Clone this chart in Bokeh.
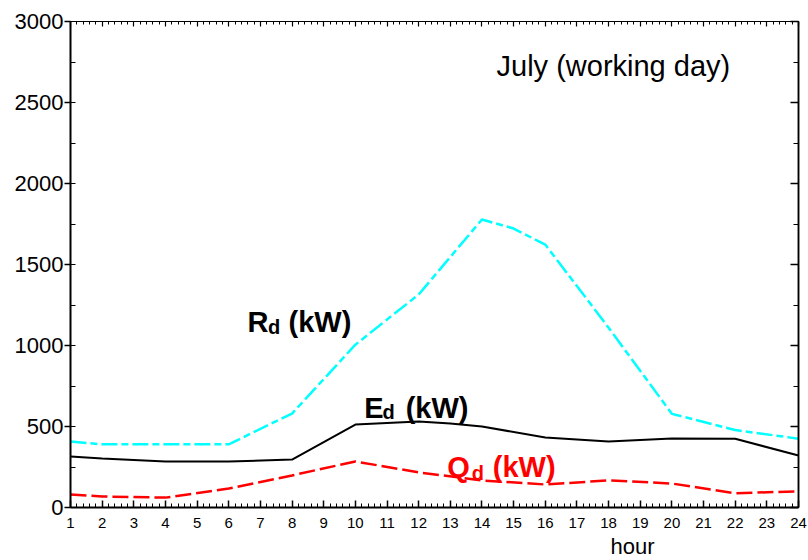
import numpy as np
from bokeh.plotting import figure
from bokeh.models import Label, LinearAxis, SingleIntervalTicker, FixedTicker, Range1d, Title
from bokeh.embed import file_html
from bokeh.resources import INLINE

# ---- data ----
r_hours = [1, 2, 4, 6, 8, 10, 12, 14, 15, 16, 18, 20, 22, 24]
r_vals = [407, 390, 390, 390, 580, 1005, 1315, 1778, 1722, 1623, 1110, 578, 478, 425]

e_hours = [1, 2, 4, 6, 8, 10, 12, 13, 14, 16, 18, 20, 22, 24]
e_vals = [315, 302, 284, 284, 296, 512, 531, 518, 500, 432, 408, 426, 424, 321]

q_hours = [1, 2, 4, 6, 8, 10, 12, 14, 16, 18, 20, 22, 24]
q_vals = [80, 68, 61, 117, 198, 284, 217, 167, 142, 167, 148, 88, 100]

title_text = "July (working day)"
x_label = "hour"

FONT = "Liberation Sans"

p = figure(width=808, height=560, x_range=Range1d(1, 24), y_range=Range1d(0, 3000),
           output_backend="svg", toolbar_location=None,
           min_border_left=70, min_border_right=10, min_border_top=21, min_border_bottom=10)
p.grid.visible = False
p.outline_line_color = None
p.background_fill_color = "white"
p.border_fill_color = "white"

# left axis
ya = p.yaxis[0]
ya.ticker = SingleIntervalTicker(interval=500, num_minor_ticks=2)
ya.major_tick_out = 6
ya.major_tick_in = 0
ya.minor_tick_in = 5
ya.minor_tick_out = 0
ya.axis_line_width = 2
ya.major_tick_line_width = 1.5
ya.major_label_text_font = FONT
ya.major_label_text_font_size = "22px"
ya.major_label_text_color = "black"
ya.major_label_standoff = 1

# bottom axis
xa = p.xaxis[0]
xa.ticker = SingleIntervalTicker(interval=1, num_minor_ticks=5)
xa.major_tick_in = 7
xa.major_tick_out = 0
xa.minor_tick_in = 4
xa.minor_tick_out = 0
xa.axis_line_width = 2
xa.major_tick_line_width = 1.5
xa.major_label_text_font = FONT
xa.major_label_text_font_size = "15px"
xa.major_label_text_color = "black"
xa.major_label_standoff = 10

# top and right frame edges: tick marks only (no label texts), drawn as
# minor ticks of fixed tickers so no empty label elements are produced
x_major = [float(v) for v in np.arange(1, 25, 1)]
x_minor = [float(v) for v in np.arange(1, 24.001, 0.2) if abs(v - round(v)) > 1e-6]
y_major = [float(v) for v in np.arange(0, 3001, 500)]
y_minor = [float(v) for v in np.arange(250, 3000, 500)]


def tick_axis(minors, length, line_w, tick_w):
    return LinearAxis(ticker=FixedTicker(ticks=[], minor_ticks=minors),
                      major_label_standoff=0, major_tick_in=0, major_tick_out=0,
                      minor_tick_in=length, minor_tick_out=0, minor_tick_line_width=tick_w,
                      axis_line_width=line_w)


p.add_layout(tick_axis(x_major, 5, 1, 1.2), "above")
p.add_layout(tick_axis(x_minor, 3, 1, 1), "above")
p.add_layout(tick_axis(y_major, 8, 1.5, 1.5), "right")
p.add_layout(tick_axis(y_minor, 5, 1.5, 1), "right")

# x axis label, placed off-centre like the reference
p.add_layout(Title(text=x_label, align="left", offset=540, standoff=3,
                   text_font=FONT, text_font_size="22px", text_font_style="normal",
                   text_color="black"), "below")

# lines
p.line(r_hours, r_vals, line_color="#00FFFF", line_width=2.5, line_dash="16 4 7 4")
p.line(e_hours, e_vals, line_color="black", line_width=2)
p.line(q_hours, q_vals, line_color="#FF0000", line_width=2.5, line_dash="16 5")


def lab(x, y, text, size, color="black", bold=False, align="left"):
    p.add_layout(Label(x=x, y=y, text=text, text_font=FONT, text_font_size=size,
                       text_color=color, text_font_style="bold" if bold else "normal",
                       text_align=align, text_baseline="alphabetic"))


# curve labels with subscripts
lab(6.59, 1142, "R", "29px", bold=True)
lab(7.24, 1114, "d", "20px", bold=True)
lab(7.89, 1142, "(kW)", "29px", bold=True)

lab(10.28, 617, "E", "29px", bold=True)
lab(10.86, 590, "d", "20px", bold=True)
lab(11.59, 617, "(kW)", "29px", bold=True)

lab(12.90, 253, "Q", "29px", color="#FF0000", bold=True)
lab(13.68, 213, "d", "20px", color="#FF0000", bold=True)
lab(14.34, 253, "(kW)", "29px", color="#FF0000", bold=True)

lab(14.46, 2728, title_text, "29px")

open("out.html", "w").write(file_html(p, INLINE))
